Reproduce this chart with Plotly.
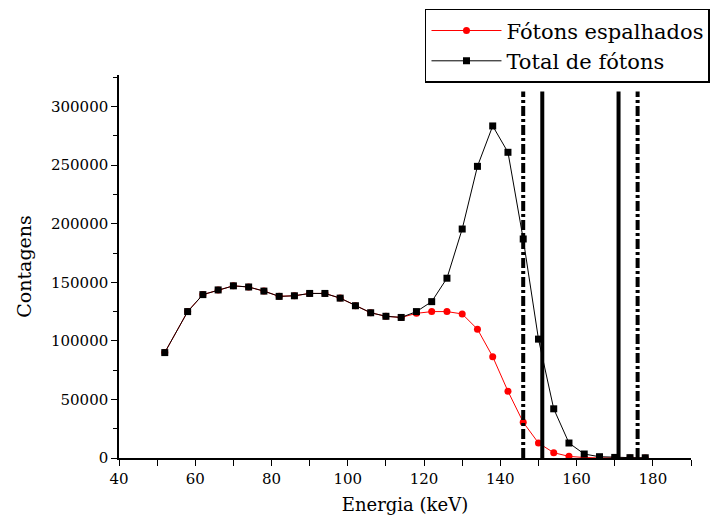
import plotly.graph_objects as go

energia = [52, 58, 62, 66, 70, 74, 78, 82, 86, 90, 94, 98, 102, 106, 110, 114,
           118, 122, 126, 130, 134, 138, 142, 146, 150, 154, 158, 162, 166, 170, 174, 178]

espalhados = [90000, 125000, 139500, 143500, 147000, 146000, 142500, 138000, 138500,
              140500, 140500, 136500, 130000, 124000, 121000, 120000,
              123500, 125000, 125000, 123000, 110000, 86500, 57000, 30500, 12800,
              4500, 1400, 400, 100, 0, 0, 0]

total = [90000, 125000, 139500, 143500, 147000, 146000, 142500, 138000, 138500,
         140500, 140500, 136500, 130000, 124000, 121000, 120000,
         125000, 133500, 153500, 195500, 249000, 283500, 261000, 187000, 101500,
         42000, 12800, 3400, 1100, 500, 300, 200]

linhas_solidas = [151, 171]
linhas_tracejadas = [146, 176]
linha_topo = 313000

FONT = "DejaVu Serif"

fig = go.Figure()

fig.add_trace(go.Scatter(
    x=energia, y=espalhados, mode="lines+markers", name="Fótons espalhados",
    line=dict(color="#ff0000", width=1),
    marker=dict(symbol="circle", size=7, color="#ff0000"),
))
fig.add_trace(go.Scatter(
    x=energia, y=total, mode="lines+markers", name="Total de fótons",
    line=dict(color="#000000", width=1),
    marker=dict(symbol="square", size=7, color="#000000"),
))

for xv in linhas_solidas:
    fig.add_shape(type="line", x0=xv, x1=xv, y0=0, y1=linha_topo,
                  xref="x", yref="y", line=dict(color="black", width=4))
for xv in linhas_tracejadas:
    fig.add_shape(type="line", x0=xv, x1=xv, y0=0, y1=linha_topo,
                  xref="x", yref="y",
                  line=dict(color="black", width=4, dash="10px,3px,3px,3px"))

fig.update_layout(
    width=715, height=521,
    margin=dict(l=119, r=24, t=75, b=63, autoexpand=False),
    paper_bgcolor="white", plot_bgcolor="white",
    font=dict(family=FONT, size=15, color="black"),
    showlegend=True,
    legend=dict(
        xref="container", yref="container",
        x=0.993, y=0.983, xanchor="right", yanchor="top",
        bordercolor="black", borderwidth=1.5, bgcolor="white",
        font=dict(family=FONT, size=21, color="black"),
        tracegroupgap=0, itemwidth=70,
    ),
    xaxis=dict(
        range=[40, 190], dtick=20, tick0=40,
        showgrid=False, zeroline=False,
        showline=True, linecolor="black", linewidth=1.5,
        ticks="outside", ticklen=6, tickwidth=1.2, tickcolor="black",
        minor=dict(dtick=10, ticks="outside", ticklen=6, tickwidth=1.2, tickcolor="black"),
        title=dict(text="Energia (keV)", font=dict(family=FONT, size=18), standoff=12),
        tickfont=dict(family=FONT, size=15),
    ),
    yaxis=dict(
        range=[0, 327000], dtick=50000, tick0=0,
        showgrid=False, zeroline=False,
        showline=True, linecolor="black", linewidth=1.5,
        ticks="outside", ticklen=6, tickwidth=1.2, tickcolor="black",
        minor=dict(dtick=25000, ticks="outside", ticklen=4, tickwidth=1.2, tickcolor="black"),
        tickformat="d",
        title=dict(text="Contagens", font=dict(family=FONT, size=19), standoff=14),
        tickfont=dict(family=FONT, size=15),
    ),
)

fig.write_html("out.html")
